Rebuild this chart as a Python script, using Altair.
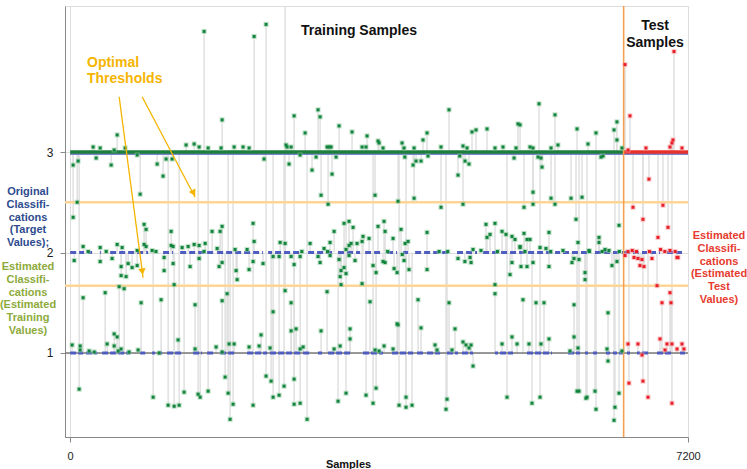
import altair as alt
import pandas as pd

# ---------------- data (sample index, estimated value[, target]) ----------------
# training samples whose target class is 3
train_t3 = [
    (1561, 4.20), (1771, 3.32), (548, 3.17), (268, 3.05), (350, 3.04), (641, 3.04), (513, 3.02),
    (1351, 3.07), (1445, 3.08), (1503, 3.05), (1608, 3.04), (1759, 3.04), (1911, 3.05), (2015, 3.05),
    (2085, 3.04), (2144, 4.15), (2283, 4.27), (2610, 3.36), (2738, 3.19), (2889, 3.42), (2913, 3.35),
    (3134, 3.26), (3285, 3.20), (3460, 3.16), (3588, 3.11), (3600, 3.09), (3868, 3.09), (4112, 3.12),
    (4159, 3.19), (4415, 3.42), (4683, 3.20), (4730, 3.22), (4858, 3.23), (4578, 3.06), (4625, 3.04),
    (2516, 3.07), (2528, 3.05), (2575, 3.05), (2994, 3.05), (3017, 3.05), (3041, 3.05), (3402, 3.05),
    (3448, 3.05), (3646, 3.04), (3891, 3.04), (4008, 3.04), (4322, 3.05), (4951, 3.04),
    (303, 2.94), (781, 2.97), (1118, 2.93), (1188, 2.93), (2260, 2.93), (2680, 2.97), (2866, 2.95),
    (3099, 2.95), (3900, 2.95), (4170, 2.96), (4540, 2.96),
    (5464, 3.48), (5650, 3.37), (5219, 3.28), (5243, 3.27), (5907, 3.23), (6128, 3.19), (6338, 3.22),
    (6372, 3.30), (6372, 3.12), (6035, 3.08), (5044, 3.05), (5196, 3.04), (5359, 3.05), (5394, 3.04),
    (5604, 3.04), (5685, 3.07), (6430, 3.04), (5173, 2.94), (5452, 2.95), (5487, 2.94), (6186, 2.95),
    (6210, 2.96),
    (82, 2.50), (35, 2.35), (816, 2.58), (1083, 2.76), (1014, 2.88), (478, 2.87), (93, 2.91), (35, 2.87),
    (2551, 2.88), (2819, 2.82), (3052, 2.78), (2924, 2.57), (3006, 2.48), (3553, 2.57), (3821, 2.51),
    (3996, 2.87), (4031, 2.91), (4089, 2.91), (4008, 2.54), (4520, 2.77), (4602, 2.91), (4648, 2.88),
    (4578, 2.48), (4322, 2.45), (5499, 2.85), (5394, 2.60), (5394, 2.48), (5604, 2.54), (5650, 2.48),
    (5837, 2.54), (5965, 2.55), (5895, 2.33), (5289, 2.45), (6396, 2.27),
]

# training samples whose target class is 2
train_t2 = [
    (862, 2.28), (885, 2.23), (1177, 2.21), (1654, 2.21), (1748, 2.21), (1771, 2.26),
    (151, 2.06), (350, 2.05), (548, 2.08), (606, 2.05), (781, 2.02), (862, 2.08), (885, 2.06), (955, 2.02),
    (1177, 2.07), (1200, 2.06), (1305, 2.05), (1375, 2.06), (1445, 2.08), (1503, 2.07), (1573, 2.09),
    (1713, 2.04), (1922, 2.03), (2062, 2.03),
    (47, 1.92), (350, 1.91), (489, 1.94), (594, 1.86), (676, 1.89), (722, 1.85), (781, 1.87), (1095, 1.95),
    (1095, 1.82), (1200, 1.89), (1398, 1.86), (1503, 1.94), (1736, 1.86), (1771, 1.90), (1934, 1.82),
    (1946, 1.73), (2085, 1.83), (594, 1.77), (652, 1.76),
    (2132, 2.29), (3192, 2.29), (3250, 2.31), (3297, 2.25), (3076, 2.21), (3413, 2.16), (3658, 2.31),
    (3588, 2.26), (3670, 2.21), (3856, 2.23), (3763, 2.14), (4159, 2.20), (3938, 2.11), (4846, 2.28),
    (4858, 2.15), (4893, 2.18), (4951, 2.29), (2447, 2.10), (2505, 2.09), (3029, 2.10), (2144, 2.11),
    (2796, 2.09), (2959, 2.04), (3274, 2.09), (3250, 2.07), (3215, 2.03), (3343, 2.09), (3483, 2.14),
    (3402, 2.11), (3903, 2.09), (4695, 2.03), (4788, 2.02),
    (2132, 1.91), (2248, 1.89), (2610, 1.88), (2913, 1.90), (3134, 1.93), (3157, 1.82), (3146, 1.76),
    (3192, 1.85), (3215, 1.79), (3250, 1.97), (3320, 1.92), (3530, 1.87), (3565, 1.80), (3646, 1.91),
    (3670, 1.90), (3775, 1.84), (3810, 1.80), (3891, 1.92), (3949, 1.83), (4159, 1.83), (4520, 1.94),
    (4600, 1.91), (4660, 1.95), (4672, 1.90), (2365, 1.96), (2435, 1.96), (2575, 1.96), (2680, 1.96),
    (2889, 1.96), (3029, 1.97), (3870, 1.98), (3157, 1.68), (3402, 1.69), (4951, 1.68),
    (5033, 2.21), (5079, 2.18), (5149, 2.16), (5184, 2.13), (5243, 2.06), (5289, 2.19), (5324, 2.13),
    (5359, 2.13), (5580, 2.20), (5545, 2.04), (5918, 2.10), (6163, 2.10), (6163, 2.15), (6046, 2.02),
    (6233, 2.03), (6279, 2.02), (5743, 2.02), (5476, 2.05), (5243, 2.05),
    (5126, 1.78), (5149, 1.90), (5254, 1.86), (5324, 1.86), (5394, 1.90), (5580, 1.86), (5848, 1.90),
    (5872, 1.94), (6000, 1.80), (6000, 1.73), (5930, 1.93), (6314, 1.87), (6372, 1.91),
    (210, 2.01), (420, 2.01), (1000, 2.01), (1560, 2.01), (2700, 2.01), (3000, 2.01), (3700, 2.01),
    (4300, 2.01), (4400, 2.01), (4980, 2.01), (5300, 2.01), (5600, 2.01), (6050, 2.01), (6200, 2.01),
    (6400, 2.01),
]

# training samples whose target class is 1
train_t1 = [
    (571, 1.66), (629, 1.64), (1212, 1.68), (151, 1.55), (408, 1.60), (827, 1.50), (1060, 1.53),
    (1456, 1.48), (1771, 1.52), (1829, 1.59), (4951, 1.59), (2575, 1.50), (2994, 1.61),
    (2365, 1.41), (3495, 1.51), (4054, 1.53), (4415, 1.50), (5277, 1.53), (5429, 1.50), (5522, 1.50),
    (5872, 1.48), (6268, 1.40),
    (23, 1.08), (117, 1.07), (117, 1.03), (221, 1.02), (280, 1.01), (431, 1.09), (513, 1.19), (548, 1.16),
    (513, 1.07), (559, 1.02), (594, 1.04), (687, 1.01), (792, 1.03), (1037, 1.00), (1258, 1.13),
    (1456, 1.04), (1701, 1.06), (1771, 1.01), (1852, 1.09), (1911, 1.09), (2085, 1.06),
    (2225, 1.18), (2202, 1.07), (2330, 1.05), (2575, 1.22), (2633, 1.24), (2715, 1.06), (2680, 1.04),
    (2924, 1.22), (3146, 1.07), (3076, 1.04), (3262, 1.24), (3262, 1.14), (3658, 1.07), (3553, 1.03),
    (3600, 1.02), (3763, 1.04), (3810, 1.29), (3821, 1.28), (4089, 1.25), (4252, 1.08), (4276, 1.03),
    (4485, 1.24), (4450, 1.03), (4578, 1.11), (4613, 1.08), (4672, 1.08), (4648, 1.05), (4695, 0.87),
    (5033, 1.09), (5149, 1.16), (5208, 1.09), (5347, 1.09), (5487, 1.09), (5580, 1.14), (5872, 1.16),
    (5918, 1.05), (5825, 1.02), (6256, 1.04), (6430, 1.02), (6268, 0.92),
]

# training samples estimated far below class 1: (sample, estimate, target)
train_low = [
    (105, 0.64, 3), (967, 0.56, 2), (1142, 0.48, 3), (1212, 0.47, 2), (1270, 0.48, 3), (1328, 0.61, 2),
    (1491, 0.59, 3), (1515, 0.56, 2), (1608, 0.62, 3), (1806, 0.76, 2), (1841, 0.60, 3), (1864, 0.34, 2),
    (1899, 0.49, 3), (2132, 0.48, 2), (2283, 0.77, 3), (2342, 0.72, 2), (2365, 0.56, 3), (2435, 0.58, 2),
    (2493, 0.67, 3), (2610, 0.74, 2), (2610, 0.49, 3), (2680, 0.50, 2), (2761, 0.34, 3), (3122, 0.52, 2),
    (3215, 0.60, 3), (3448, 0.58, 2), (3530, 0.50, 3), (3565, 0.65, 2), (3833, 0.48, 3), (3914, 0.56, 2),
    (3914, 0.46, 3), (3984, 0.48, 2), (4380, 0.44, 3), (4392, 0.54, 2), (5091, 0.56, 3), (5382, 0.50, 2),
    (5476, 0.56, 3), (5907, 0.62, 2), (5930, 0.62, 3), (6011, 0.55, 2), (6023, 0.56, 3), (6116, 0.62, 2),
    (6128, 0.44, 3), (6338, 0.33, 2), (6349, 0.46, 3), (6396, 0.60, 2),
    (2505, 1.62, 4.7),
]

# test samples: (sample, estimate, target)
test_pts = [
    (6466, 3.87, 3), (6524, 3.36, 3), (7037, 4.00, 3), (6710, 3.04, 3), (6990, 3.05, 3), (7013, 3.09, 3),
    (7025, 3.12, 3), (7130, 3.04, 3), (6501, 3.02, 3), (6745, 2.73, 3), (6559, 2.45, 3), (6675, 2.33, 3),
    (6908, 2.47, 3), (6967, 2.25, 3), (6850, 2.15, 3),
    (6466, 1.97, 2), (6571, 1.95, 2), (6617, 1.94, 2), (6640, 1.87, 2), (6664, 1.93, 2), (6687, 1.86, 2),
    (6780, 1.94, 2), (7072, 1.95, 2), (7083, 1.95, 2), (6550, 2.02, 2), (6880, 2.03, 2), (6990, 2.02, 2),
    (6839, 1.67, 2), (6500, 2.01, 2), (6600, 2.01, 2), (6750, 2.01, 2), (6930, 2.01, 2), (7050, 2.01, 2),
    (6897, 1.50, 1), (6990, 1.60, 1), (7002, 1.50, 1), (6501, 1.09, 1), (6617, 1.09, 1), (6874, 1.14, 1),
    (6932, 1.03, 1), (6955, 1.09, 1), (7013, 1.09, 1), (7072, 1.04, 1), (7130, 1.09, 1), (7153, 1.04, 1),
    (6664, 0.98, 1), (6512, 0.70, 2), (6675, 0.72, 3), (6734, 0.56, 2), (7013, 0.50, 3),
]

# target-value (original classification) runs, as sample ranges
target_runs_2 = [
    (0, 163), (210, 256), (350, 361), (466, 909), (1083, 1200), (1282, 1666), (1713, 2248), (2307, 2353),
    (2388, 2680), (2773, 3087), (3122, 3379), (3437, 3646), (3693, 3810), (3880, 3938), (4020, 4427),
    (4509, 4742), (4812, 5709), (5743, 6058), (6116, 6442), (6454, 6722), (6757, 6874), (6955, 7130),
]
target_runs_1 = [
    (0, 151), (186, 315), (373, 699), (816, 874), (955, 990), (1025, 1072), (1130, 1316), (1433, 1538),
    (1596, 1666), (1748, 1922), (2062, 2295), (2330, 2680), (2715, 2796), (2889, 2936), (3006, 3262),
    (3413, 3646), (3751, 3996), (4043, 4112), (4159, 4311), (4392, 4520), (4567, 4695), (4951, 4986),
    (5010, 5161), (5324, 5615), (5802, 5942), (6000, 6035), (6093, 6140), (6244, 6291), (6326, 6372),
    (6396, 6442), (6489, 6524), (6606, 6640), (6664, 6734), (6839, 7025), (7107, 7165),
]

thresholds = [2.5, 1.67]
test_start = 6450
n_samples = 7200
class3_runs = [(0, 6450, "train"), (6450, 7200, "test")]
arrows = [(571, 3.55, 850, 1.75), (839, 3.55, 1456, 2.55)]
arrow_heads = [(839, 1.82, 172), (1433, 2.60, 152)]

# ---------------- build tables ----------------
rows = [(x, e, 3) for x, e in train_t3] + [(x, e, 2) for x, e in train_t2] + \
       [(x, e, 1) for x, e in train_t1] + list(train_low)
train = pd.DataFrame(rows, columns=["sample", "est", "target"])
test = pd.DataFrame(test_pts, columns=["sample", "est", "target"])
stems = pd.concat([train, test])
runs2 = pd.DataFrame(target_runs_2, columns=["a", "b"]).assign(level=2)
runs1 = pd.DataFrame(target_runs_1, columns=["a", "b"]).assign(level=1)
runs3 = pd.DataFrame(class3_runs, columns=["a", "b", "set"]).assign(level=3)
thr = pd.DataFrame({"t": thresholds})
arr = pd.DataFrame(arrows, columns=["x1", "y1", "x2", "y2"])
heads = pd.DataFrame(arrow_heads, columns=["x", "y", "ang"])

XS = alt.Scale(domain=[-60, n_samples], nice=False, zero=False)
YS = alt.Scale(domain=[0.164, 4.453], nice=False, zero=False)
XAX = alt.Axis(values=[0, n_samples], format="d", title="Samples", labelFontSize=11, labelPadding=8,
               labelColor="#222", titleFontSize=11, titleFontWeight="bold", titleX=283,
               titleY=30, titleBaseline="alphabetic", titleColor="#111", labelFlush=False)
YAX = alt.Axis(values=[1, 2, 3], format="d", title=None, labelFontSize=12, labelPadding=7,
               labelColor="#222")


def X(f):
    return alt.X(f, type="quantitative", scale=XS, axis=XAX)


def Y(f):
    return alt.Y(f, type="quantitative", scale=YS, axis=YAX)


FONT = "Liberation Sans"

stem_layer = alt.Chart(stems).mark_rule(color="#DEDEDE", strokeWidth=1.4, clip=True).encode(
    x=X("sample"), y=Y("target"), y2="est")
base1 = alt.Chart(pd.DataFrame({"v": [1]})).mark_rule(color="#7A7A7A", strokeWidth=1.6).encode(y=Y("v"))
thr_layer = alt.Chart(thr).mark_rule(color="#FFD596", strokeWidth=2.5).encode(y=Y("t"))
blue3 = alt.Chart(runs3).mark_rule(color="#7B83D0", strokeWidth=2, yOffset=2).encode(
    x=X("a"), x2="b", y=Y("level"))
blue2 = alt.Chart(runs2).mark_rule(color="#4F5CC0", strokeWidth=3, strokeDash=[6, 3]).encode(
    x=X("a"), x2="b", y=Y("level"))
blue1 = alt.Chart(runs1).mark_rule(color="#4F5CC0", strokeWidth=3, strokeDash=[6, 2]).encode(
    x=X("a"), x2="b", y=Y("level"))
line3 = alt.Chart(runs3).mark_rule(strokeWidth=3.5).encode(
    x=X("a"), x2="b", y=Y("level"),
    color=alt.Color("set:N", scale=alt.Scale(domain=["train", "test"], range=["#1D7F3C", "#E8302A"]),
                    legend=None))
vline = alt.Chart(pd.DataFrame({"s": [test_start]})).mark_rule(color="#F4A050", strokeWidth=1.6).encode(
    x=X("s"))


def pts(df, halo, core):
    h = alt.Chart(df).mark_square(size=26, color=halo, opacity=0.55, clip=True).encode(
        x=X("sample"), y=Y("est"))
    c = alt.Chart(df).mark_square(size=9, color=core, opacity=1, clip=True).encode(
        x=X("sample"), y=Y("est"))
    return [h, c]


arrow_lines = alt.Chart(arr).mark_rule(color="#F5B400", strokeWidth=1.3).encode(
    x=X("x1"), y=Y("y1"), x2="x2", y2="y2")
arrow_heads_l = alt.Chart(heads).mark_point(shape="triangle", filled=True, size=55, color="#F5B400",
                                            opacity=1).encode(
    x=X("x"), y=Y("y"), angle=alt.Angle("ang:Q", scale=None))


def txt(s, x, y, color, size, align="center", lh=13):
    return alt.Chart(pd.DataFrame({"t": [s]})).mark_text(
        font=FONT, fontWeight="bold", fontSize=size, color=color, align=align, baseline="middle",
        lineBreak="\n", lineHeight=lh).encode(text="t:N", x=alt.value(x), y=alt.value(y))


texts = [
    txt("Training Samples", 294, 24.5, "#111111", 14),
    txt("Test\nSamples", 590, 19.5, "#111111", 14, lh=17),
    txt("Optimal\nThresholds", 22, 57, "#F5B400", 14, align="left", lh=16),
    txt("Original\nClassifi-\ncations\n(Target\nValues);", -37, 186, "#2D4B8E", 11, lh=12.8),
    txt("Estimated\nClassifi-\ncations\n(Estimated\nTraining\nValues)", -37, 261, "#8DAA3A", 11, lh=12.8),
    txt("Estimated\nClassifi-\ncations\n(Estimated\nTest\nValues)", 654, 230, "#E63B2E", 11, lh=12.8),
]

chart = alt.layer(
    stem_layer, base1, thr_layer, blue3, blue2, blue1, line3, vline,
    *pts(train, "#8FCB9C", "#13843F"), *pts(test, "#F7A3A3", "#E8202A"),
    arrow_lines, arrow_heads_l, *texts
).properties(
    width=623, height=431,
    autosize=alt.AutoSizeParams(type="none"),
    padding={"left": 65, "top": 6, "right": 59, "bottom": 32},
).configure_view(stroke="#9A9A9A", strokeWidth=2.5).configure_axis(
    grid=False, ticks=False, domain=False, labelFont=FONT, titleFont=FONT
).configure(background="white")

chart.save("out.html", embed_options={"renderer": "svg", "actions": False})
